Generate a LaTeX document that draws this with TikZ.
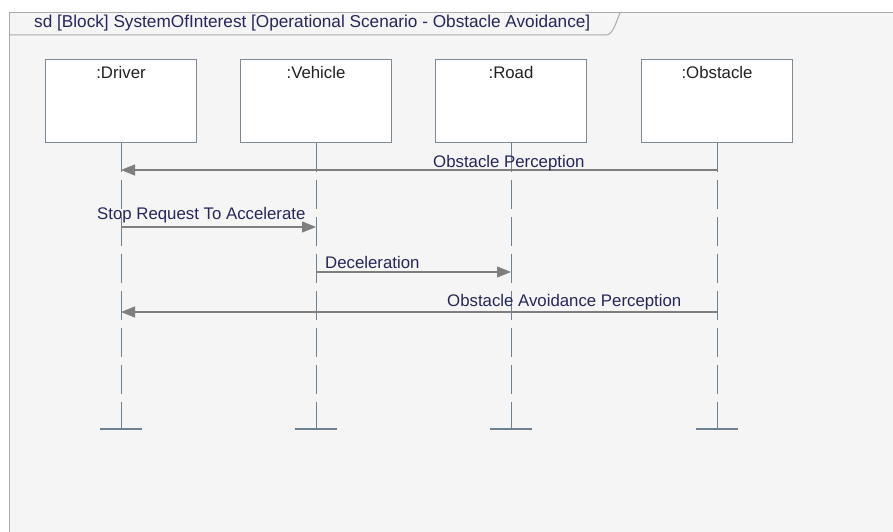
\documentclass[tikz,border=0pt]{standalone}
\usepackage{fontspec}
\setmainfont{Liberation Sans}
\usetikzlibrary{arrows.meta}

\definecolor{paper}{HTML}{F5F5F5}
\definecolor{framegray}{HTML}{ABABAB}
\definecolor{boxline}{HTML}{7D8A96}
\definecolor{lifecol}{HTML}{6F8190}
\definecolor{msgline}{HTML}{7F7F7F}
\definecolor{msgtext}{HTML}{26265C}
\definecolor{lbltext}{HTML}{222222}

\tikzset{
  txt/.style={font=\fontsize{16.8}{20}\selectfont, inner sep=0pt},
  lifebox/.style={draw=boxline, fill=white, line width=1pt,
    minimum width=151pt, minimum height=82pt, inner sep=0pt},
  boxlabel/.style={txt, text=lbltext, anchor=base},
  msglabel/.style={txt, text=msgtext, anchor=base west},
  lifeline/.style={draw=lifecol, line width=1pt, dash pattern=on 29pt off 8pt},
  endbar/.style={draw=lifecol, line width=1.2pt},
  msg/.style={draw=msgline, line width=1.2pt,
    -{Triangle[length=14pt, width=11pt, fill=msgline]}},
}

\begin{document}
\begin{tikzpicture}[x=1pt, y=-1pt]
  \useasboundingbox (0,0) rectangle (893,532);
  \fill[white] (0,0) rectangle (893,532);
  % diagram frame and its name tab
  \fill[paper] (9,13) rectangle (893,532);
  \draw[framegray, line width=1pt] (9,532) -- (9,13) -- (893,13);
  \draw[framegray, line width=1pt] (9,35) -- (606,35)
      .. controls (613,35) and (616,22) .. (620,13);
  \node[txt, font=\fontsize{17.2}{20}\selectfont, text=msgtext, anchor=base west] (title) at (34,28)
      {sd [Block] SystemOfInterest [Operational Scenario - Obstacle Avoidance]};

  % lifeline heads
  \node[lifebox] (driver)   at (121,101) {};
  \node[lifebox] (vehicle)  at (316,101) {};
  \node[lifebox] (road)     at (511,101) {};
  \node[lifebox] (obstacle) at (717,101) {};
  \node[boxlabel] (driverlbl)   at (121,79) {:Driver};
  \node[boxlabel] (vehiclelbl)  at (316,79) {:Vehicle};
  \node[boxlabel] (roadlbl)     at (511,79) {:Road};
  \node[boxlabel] (obstaclelbl) at (717,79) {:Obstacle};

  % lifeline ends
  \coordinate (driverend)   at (121,429);
  \coordinate (vehicleend)  at (316,429);
  \coordinate (roadend)     at (511,429);
  \coordinate (obstacleend) at (717,429);
  \foreach \l in {driver, vehicle, road, obstacle}{
    \draw[lifeline] (\l.south) -- (\l end);
    \draw[endbar] ([xshift=-21pt]\l end) -- ([xshift=21pt]\l end);
  }

  % message end points on the lifelines
  \coordinate (m1from) at (717,170);
  \coordinate (m1to)   at (121,170);
  \coordinate (m2from) at (121,227);
  \coordinate (m2to)   at (316,227);
  \coordinate (m3from) at (316,272);
  \coordinate (m3to)   at (511,272);
  \coordinate (m4from) at (717,312);
  \coordinate (m4to)   at (121,312);

  % messages
  \draw[msg] (m1from) -- (m1to);
  \draw[msg] (m2from) -- (m2to);
  \draw[msg] (m3from) -- (m3to);
  \draw[msg] (m4from) -- (m4to);

  \node[msglabel] (m1lbl) at (433,167) {Obstacle Perception};
  \node[msglabel] (m2lbl) at (97,219)  {Stop Request To Accelerate};
  \node[msglabel] (m3lbl) at (325,268) {Deceleration};
  \node[msglabel] (m4lbl) at (447,306) {Obstacle Avoidance Perception};
\end{tikzpicture}
\end{document}
